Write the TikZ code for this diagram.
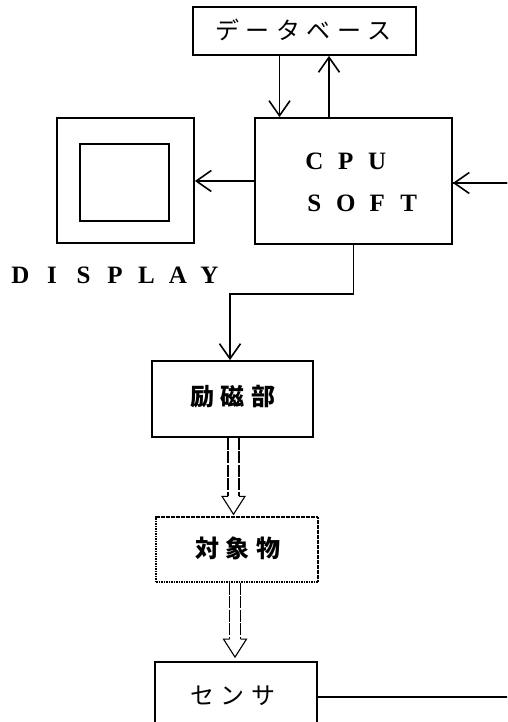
\documentclass[tikz,border=0pt]{standalone}
\usepackage{fontspec}
\setmainfont{Liberation Serif}
\newfontfamily\jp{Noto Sans CJK JP}
\usetikzlibrary{arrows.meta,calc}
\newcommand\pc[1]{\makebox[31.5pt]{#1}}
\newcommand\jc[1]{\makebox[30.5pt]{#1}}
\tikzset{
  box/.style={draw,line width=1.8pt,rectangle,inner sep=0pt},
  conn/.style={line width=1.6pt,-{Straight Barb[length=15pt,width=21pt,line width=1.6pt]}},
  plain/.style={line width=1.6pt},
  shaft/.style={line width=1.1pt,dash pattern=on 12pt off 1.5pt},
  head/.style={line width=1.1pt,line join=miter},
  jtext/.style={font=\jp\fontsize{24pt}{26pt}\selectfont},
  jbold/.style={font=\jp\bfseries\fontsize{24pt}{26pt}\selectfont},
  ltext/.style={font=\bfseries\fontsize{25pt}{30pt}\selectfont},
}
\begin{document}
\begin{tikzpicture}[x=1pt,y=-1pt]
\useasboundingbox (0,0) rectangle (507,722);
\clip (0,0) rectangle (507,722);
\fill[white] (0,0) rectangle (507,722);
% boxes
\node[box,minimum width=223pt,minimum height=48pt] (db) at (304.5,31) {};
\node[jtext] (dbt) at (303.5,30) {\jc{デ}\jc{ー}\jc{タ}\jc{ベ}\jc{ー}\jc{ス}};
\node[box,minimum width=197pt,minimum height=126pt] (cpu) at (353.5,181) {};
\node[ltext,anchor=west] (cput) at (295,161) {\pc{C}\pc{P}\pc{U}};
\node[ltext,anchor=west] (softt) at (295,203) {\pc{S}\pc{O}\pc{F}\pc{T}};
\node[box,minimum width=137pt,minimum height=125pt] (disp) at (125.5,180.5) {};
\node[box,minimum width=89pt,minimum height=77pt] (scr) at (124.5,182.5) {};
\node[ltext] (dispt) at (115,275) {\pc{D}\pc{I}\pc{S}\pc{P}\pc{L}\pc{A}\pc{Y}};
\node[box,minimum width=161pt,minimum height=76pt] (exc) at (232.5,399) {};
\node[jbold] (exct) at (233,397) {\jc{励}\jc{磁}\jc{部}};
\node[draw,line width=1.4pt,dash pattern=on 1.6pt off 0.9pt,rectangle,inner sep=0pt,minimum width=162pt,minimum height=65pt] (obj) at (237,549.5) {};
\node[jbold] (objt) at (238,548) {\jc{対}\jc{象}\jc{物}};
\node[box,minimum width=162pt,minimum height=74pt] (sen) at (236,699) {};
\node[jtext] (sent) at (233,696) {\jc{セ}\jc{ン}\jc{サ}};
\coordinate (rt) at (520,697);
% connectors
\draw[conn] ([xshift=-25pt]db.south) -- ([xshift=-25pt]db.south |- cpu.north);
\draw[conn] ([xshift=24.5pt]db.south |- cpu.north) -- ([xshift=24.5pt]db.south);
\draw[conn] (cpu.west |- 0,181) -- (disp.east |- 0,181);
\draw[plain] (sen.east |- rt) -- (rt) |- (cpu.east |- 0,183);
\draw[conn] (rt |- 0,183) -- (cpu.east |- 0,183);
\draw[conn] (cpu.south) -- ++(0,49) -| ([xshift=-2.5pt]exc.north);
% hollow arrows
\draw[shaft] let \p1=(exc.south), \p2=(obj.north) in
  (\x1-4.5pt,\y1) -- (\x1-4.5pt,\y2+20pt)
  (\x1+6.5pt,\y1) -- (\x1+6.5pt,\y2+20pt);
\draw[head] let \p1=(exc.south), \p2=(obj.north) in
  (\x1-4.5pt,\y2+20pt) -- (\x1-10.5pt,\y2+20pt) -- (\x1+1pt,\y2+2pt) -- (\x1+12.5pt,\y2+20pt) -- (\x1+6.5pt,\y2+20pt);
\draw[shaft] let \p1=(obj.south), \p2=(sen.north) in
  (\x1-7.5pt,\y1) -- (\x1-7.5pt,\y2+22pt)
  (\x1+3.5pt,\y1) -- (\x1+3.5pt,\y2+22pt);
\draw[head] let \p1=(obj.south), \p2=(sen.north) in
  (\x1-7.5pt,\y2+22pt) -- (\x1-13.5pt,\y2+22pt) -- (\x1-2pt,\y2+4pt) -- (\x1+9.5pt,\y2+22pt) -- (\x1+3.5pt,\y2+22pt);
\end{tikzpicture}
\end{document}
